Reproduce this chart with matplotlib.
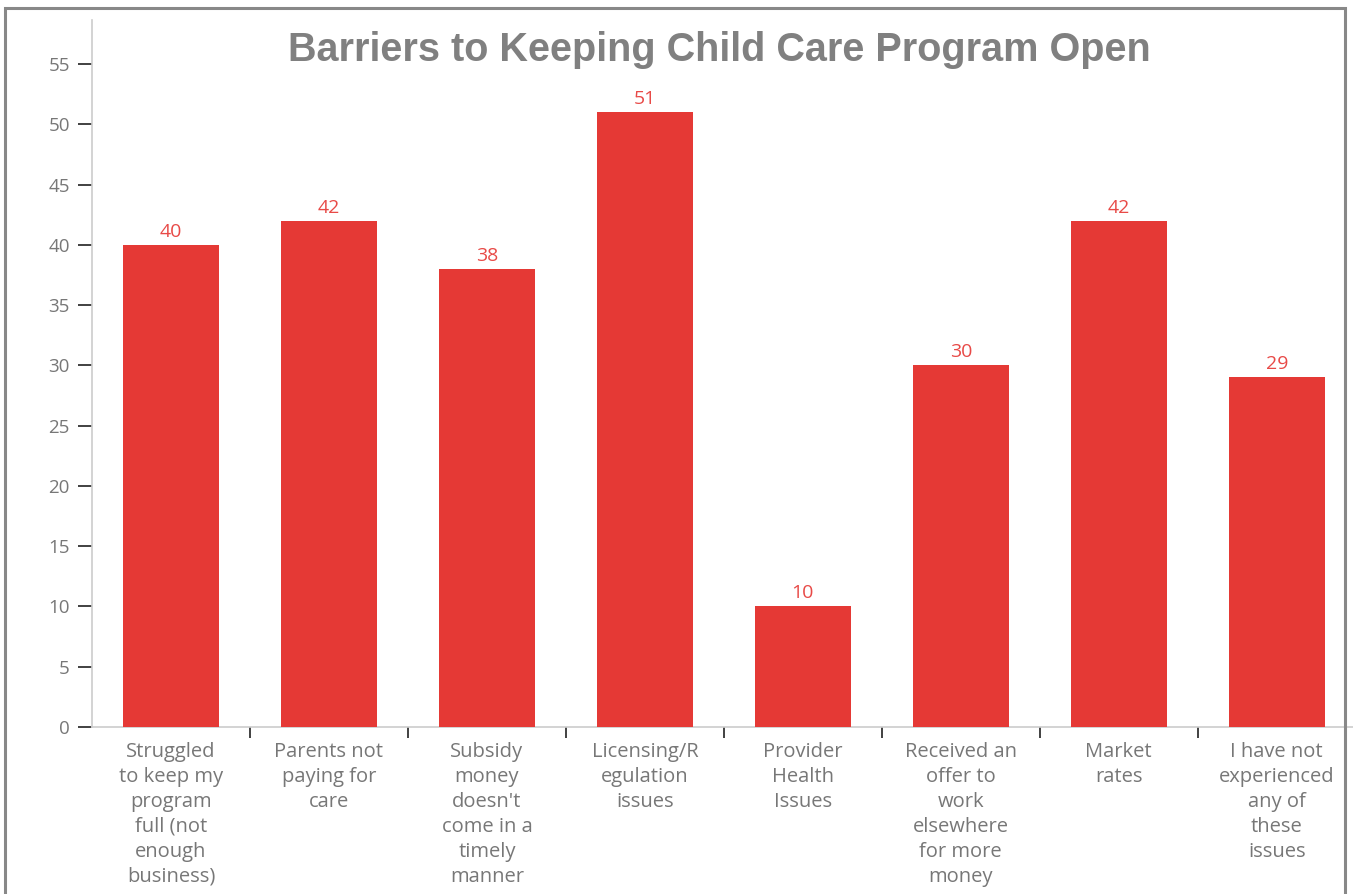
import matplotlib.pyplot as plt
import matplotlib.patches as mpatches
import numpy as np

categories = [
    "Struggled\nto keep my\nprogram\nfull (not\nenough\nbusiness)",
    "Parents not\npaying for\ncare",
    "Subsidy\nmoney\ndoesn't\ncome in a\ntimely\nmanner",
    "Licensing/R\negulation\nissues",
    "Provider\nHealth\nIssues",
    "Received an\noffer to\nwork\nelsewhere\nfor more\nmoney",
    "Market\nrates",
    "I have not\nexperienced\nany of\nthese\nissues",
]
counts = [40, 42, 38, 51, 10, 30, 42, 29]
yticks = list(range(0, 60, 5))

bar_color = "#e53935"
label_gray = "#777777"

fig = plt.figure(figsize=(13.53, 8.94), dpi=100)
ax = fig.add_axes([0.068, 0.187, 0.934, 0.791])

x = np.arange(len(counts))
bars = ax.bar(x, counts, width=0.61, color=bar_color, zorder=3)
for bar, val in zip(bars, counts):
    ax.annotate(f"{val}", (bar.get_x() + bar.get_width() / 2, val),
                xytext=(0, 3), textcoords="offset points",
                ha="center", va="bottom", fontsize=14,
                color="#e84a47", family="Open Sans")

ax.set_xlim(-0.5, 7.5)
ax.set_ylim(0, 58.7)
ax.set_yticks(yticks)
ax.set_yticklabels([str(t) for t in yticks], fontsize=13.5, color=label_gray,
                   family="Open Sans")

ax.set_xticks(x)
ax.set_xticklabels(categories, fontsize=14.5, color=label_gray,
                   family="Open Sans", linespacing=1.33, va="top")
ax.set_xticks(np.arange(0.5, 7.5, 1), minor=True)
ax.tick_params(axis="x", which="major", length=0, pad=11)
ax.tick_params(axis="x", which="minor", length=8, width=1.3, color="#333333")
ax.tick_params(axis="y", length=10, width=1.3, color="#333333", pad=6)

for side in ("top", "right"):
    ax.spines[side].set_visible(False)
for side in ("left", "bottom"):
    ax.spines[side].set_color("#cccccc")
    ax.spines[side].set_linewidth(1.2)

fig.text(0.532, 0.944, "Barriers to Keeping Child Care Program Open",
         ha="center", va="center", fontsize=28.5, fontweight="bold",
         color="#808080", family=["Liberation Sans Narrow", "Liberation Sans"])

# outer frame around the chart
frame = mpatches.Rectangle((5 / 1353, -0.05), 1345 / 1353 - 5 / 1353, 1.05 - 8 / 894,
                           transform=fig.transFigure, fill=False,
                           edgecolor="#888888", linewidth=2.2)
fig.patches.append(frame)

fig.savefig("out.png", dpi=100, facecolor="white")
